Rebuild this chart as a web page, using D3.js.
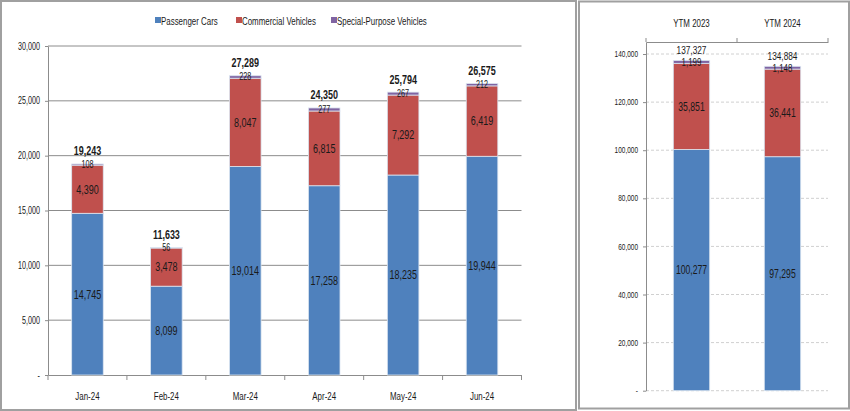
<!DOCTYPE html>
<html>
<head>
<meta charset="utf-8">
<script src="https://cdn.jsdelivr.net/npm/d3@7"></script>
<style>
  body { margin: 0; background: #fff; }
  svg { display: block; font-family: "Liberation Sans", Arial, sans-serif; }
</style>
</head>
<body>
<div class="container"></div>
<script>
const months = ["Jan-24", "Feb-24", "Mar-24", "Apr-24", "May-24", "Jun-24"];
const passengerCars = [14745, 8099, 19014, 17258, 18235, 19944];
const commercialVehicles = [4390, 3478, 8047, 6815, 7292, 6419];
const specialVehicles = [108, 56, 228, 277, 267, 212];

const ytmYears = ["YTM 2023", "YTM 2024"];
const ytmPassenger = [100277, 97295];
const ytmCommercial = [35851, 36441];
const ytmSpecial = [1199, 1148];

const seriesNames = ["Passenger Cars", "Commercial Vehicles", "Special-Purpose Vehicles"];
const colors = ["#4f81bd", "#c0504d", "#8064a2"];
const keys = ["pc", "cv", "sp"];

const fmt = d3.format(",");
const tickFmt = d => d === 0 ? "-" : fmt(d);
const squeeze = 0.72; // the reference font is narrow

const svg = d3.select(".container")
    .append("svg")
    .attr("width", 850)
    .attr("height", 411);

// narrow text: scale horizontally around its anchor point
function label(g, x, y, txt, size, anchor, bold) {
  g.append("g")
      .attr("transform", `translate(${x},${y}) scale(${squeeze},1)`)
      .append("text")
      .attr("text-anchor", anchor || "middle")
      .attr("dy", "0.35em")
      .attr("font-size", size)
      .attr("font-weight", bold ? "bold" : "normal")
      .attr("fill", "#1a1a1a")
      .text(txt);
}

// panel frames
svg.append("rect").attr("x", 1).attr("y", 1).attr("width", 575).attr("height", 409)
    .attr("fill", "none").attr("stroke", "#a0a0a0").attr("stroke-width", 2);
svg.append("rect").attr("x", 579).attr("y", 1.5).attr("width", 270).attr("height", 407)
    .attr("fill", "none").attr("stroke", "#a0a0a0").attr("stroke-width", 2);

function buildRows(cats, a, b, c) {
  return cats.map((cat, i) => ({ cat: cat, pc: a[i], cv: b[i], sp: c[i] }));
}

const stack = d3.stack().keys(keys);

// ---------- left chart ----------
const monthRows = buildRows(months, passengerCars, commercialVehicles, specialVehicles);
const x1 = d3.scaleBand().domain(months).range([48, 521.5]).paddingInner(0.6).paddingOuter(0.3);
const y1 = d3.scaleLinear().domain([0, 30000]).range([375, 46]);
const yTicks1 = d3.range(0, 30001, 5000);

const left = svg.append("g");

left.selectAll(".grid").data(yTicks1.slice(1)).enter().append("line")
    .attr("x1", 48).attr("x2", 521.5)
    .attr("y1", d => y1(d)).attr("y2", d => y1(d))
    .attr("stroke", "#8c8c8c").attr("stroke-width", 1);

const yAxis1 = left.append("g")
    .attr("transform", "translate(48,0)")
    .call(d3.axisLeft(y1).tickValues(yTicks1).tickFormat("").tickSize(3).tickSizeOuter(0));
yAxis1.selectAll("line, path").attr("stroke", "#8c8c8c");
yTicks1.forEach(t => label(left, 40, y1(t), tickFmt(t), 10, "end"));

const xAxis1 = left.append("g")
    .attr("transform", "translate(0,375)")
    .call(d3.axisBottom(x1).tickValues([]).tickSizeOuter(0));
xAxis1.select("path").attr("stroke", "#8c8c8c");
left.selectAll(".xt").data(d3.range(0, 7)).enter().append("line")
    .attr("x1", i => 48 + i * x1.step()).attr("x2", i => 48 + i * x1.step())
    .attr("y1", 375).attr("y2", 380).attr("stroke", "#8c8c8c");
months.forEach(m => label(left, x1(m) + x1.bandwidth() / 2, 396, m, 11));

drawBars(left, stack(monthRows), x1, y1, 12.5, 10, 12.5, 13, true);

// legend
const legend = svg.append("g");
const legendX = [155, 236, 331];
seriesNames.forEach((name, i) => {
  legend.append("rect").attr("x", legendX[i]).attr("y", 17).attr("width", 6).attr("height", 6)
      .attr("fill", colors[i]);
  label(legend, legendX[i] + 6, 21, name, 11, "start");
});

// ---------- right chart ----------
const ytmRows = buildRows(ytmYears, ytmPassenger, ytmCommercial, ytmSpecial);
const x2 = d3.scaleBand().domain(ytmYears).range([646, 828]).paddingInner(0.6).paddingOuter(0.3);
const y2 = d3.scaleLinear().domain([0, 145000]).range([390.7, 42]);
const yTicks2 = d3.range(0, 140001, 20000);

const right = svg.append("g");
right.selectAll(".grid").data(yTicks2).enter().append("line")
    .attr("x1", 646).attr("x2", 828)
    .attr("y1", d => y2(d)).attr("y2", d => y2(d))
    .attr("stroke", "#d0d0d0").attr("stroke-dasharray", "3,2");

const yAxis2 = right.append("g")
    .attr("transform", "translate(646,0)")
    .call(d3.axisLeft(y2).tickValues(yTicks2).tickFormat("").tickSize(3).tickSizeOuter(0));
yAxis2.selectAll("line, path").attr("stroke", "#8c8c8c");
yTicks2.forEach(t => label(right, 638, y2(t), tickFmt(t), 9, "end"));

const xAxis2 = right.append("g")
    .attr("transform", "translate(0,42)")
    .call(d3.axisTop(x2).tickValues([]).tickSizeOuter(0));
xAxis2.select("path").attr("stroke", "#8c8c8c");
right.selectAll(".xt2").data([0, 1, 2]).enter().append("line")
    .attr("x1", i => 646 + i * x2.step()).attr("x2", i => 646 + i * x2.step())
    .attr("y1", 42).attr("y2", 38).attr("stroke", "#8c8c8c");
ytmYears.forEach(c => label(right, x2(c) + x2.bandwidth() / 2, 23, c, 11));

drawBars(right, stack(ytmRows), x2, y2, 12, 11, 11.5, 10, false);

function drawBars(g, layers, x, y, segSize, smallSize, totSize, totGap, boldTotal) {
  layers.forEach((layer, li) => {
    g.selectAll(".bar" + li)
        .data(layer)
        .enter().append("rect")
        .attr("x", d => x(d.data.cat))
        .attr("width", x.bandwidth())
        .attr("y", d => y(d[1]))
        .attr("height", d => y(d[0]) - y(d[1]))
        .attr("fill", colors[li])
        .attr("stroke", "#dbe5f1").attr("stroke-width", 0.8);
  });
  layers.forEach((layer, li) => {
    layer.forEach(d => label(g, x(d.data.cat) + x.bandwidth() / 2, (y(d[0]) + y(d[1])) / 2,
        fmt(d.data[keys[li]]), li === 2 ? smallSize : segSize));
  });
  layers[layers.length - 1].forEach(d =>
      label(g, x(d.data.cat) + x.bandwidth() / 2, y(d[1]) - totGap, fmt(d[1]), totSize, "middle", boldTotal));
}
</script>
</body>
</html>
